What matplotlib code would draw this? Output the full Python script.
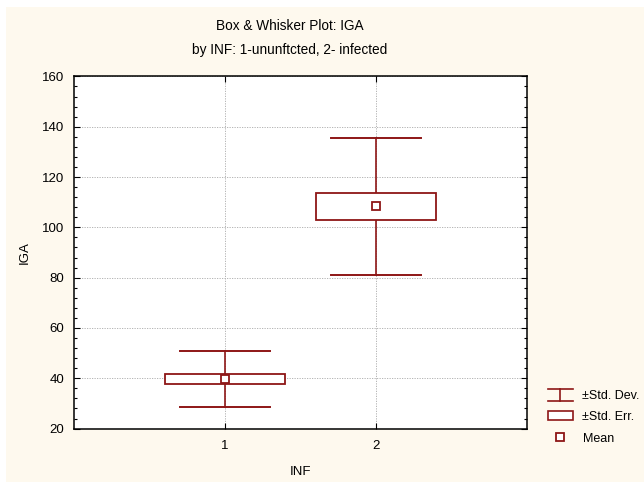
import matplotlib
matplotlib.use("Agg")
import matplotlib.pyplot as plt
from matplotlib.patches import Rectangle
from matplotlib.lines import Line2D
from matplotlib.ticker import MultipleLocator

plt.rcParams['font.family'] = ['Liberation Sans', 'DejaVu Sans']

groups = [1, 2]
means = [39.7, 108.3]
std_err = [1.9, 5.5]
std_dev = [10.95, 27.15]

title = "Box & Whisker Plot: IGA"
subtitle = "by INF: 1-ununftcted, 2- infected"
y_ticks = [20, 40, 60, 80, 100, 120, 140, 160]

red = '#8E1616'
cream = '#FEF9EE'

fig = plt.figure(figsize=(6.44, 4.82), dpi=100, facecolor='white')
fig.patches.append(Rectangle((6 / 644, 0), 1, 1 - 7 / 482, transform=fig.transFigure,
                             facecolor=cream, edgecolor='none', zorder=-10))

ax = fig.add_axes([74 / 644, 1 - 428.6 / 482, (527 - 74) / 644, (428.6 - 76.4) / 482])
ax.set_facecolor('white')

box_w = 0.8
cap_w = 0.6
for g, m, se, sd in zip(groups, means, std_err, std_dev):
    # standard deviation whiskers
    ax.plot([g, g], [m + se, m + sd], color=red, lw=1.2, zorder=3)
    ax.plot([g, g], [m - sd, m - se], color=red, lw=1.2, zorder=3)
    ax.plot([g - cap_w / 2, g + cap_w / 2], [m + sd, m + sd], color=red, lw=1.4, zorder=3)
    ax.plot([g - cap_w / 2, g + cap_w / 2], [m - sd, m - sd], color=red, lw=1.4, zorder=3)
    # standard error box
    ax.add_patch(Rectangle((g - box_w / 2, m - se), box_w, 2 * se,
                           facecolor='white', edgecolor=red, lw=1.3, zorder=4))
    # mean marker
    ax.plot([g], [m], marker='s', ms=6, mfc='white', mec=red, mew=1.3, zorder=5)

ax.set_xlim(0, 3)
ax.set_ylim(20, 160)
ax.set_xticks(groups)
ax.set_yticks(y_ticks)
ax.yaxis.set_minor_locator(MultipleLocator(4))
ax.tick_params(axis='both', which='both', direction='in', top=True, right=True,
               labelsize=9.5, colors='black')
ax.tick_params(which='major', length=4, width=0.8)
ax.tick_params(which='minor', length=2.5, width=0.8)
ax.tick_params(axis='x', pad=8)
ax.tick_params(axis='y', pad=7)
ax.grid(True, which='major', color='#AAAAAA', ls=(0, (1.5, 1.5)), lw=0.6, zorder=0)
for sp in ax.spines.values():
    sp.set_linewidth(1.1)
    sp.set_color('black')

ax.set_xlabel("INF", fontsize=9.5, labelpad=10)
ax.set_ylabel("IGA", fontsize=9.5, labelpad=8)

fig.text(290 / 644, 1 - 26 / 482, title, ha='center', va='center', fontsize=9.8)
fig.text(290 / 644, 1 - 50 / 482, subtitle, ha='center', va='center', fontsize=9.8)

handles = [
    Line2D([0], [0], color=red, lw=1.2),
    Rectangle((0, 0), 1, 1, facecolor='white', edgecolor=red, lw=1.2),
    Line2D([0], [0], color='none', marker='s', ms=5.5, mfc='white', mec=red, mew=1.3),
]
labels = ['\u00b1Std. Dev.', '\u00b1Std. Err.', 'Mean']


class SDHandler:
    def legend_artist(self, legend, orig_handle, fontsize, handlebox):
        x0, y0 = handlebox.xdescent, handlebox.ydescent
        w, h = handlebox.width, handlebox.height
        art = []
        cx = x0 + w / 2
        for (xs, ys) in [([x0, x0 + w], [y0 + h + 1, y0 + h + 1]),
                         ([x0, x0 + w], [y0 - 1.5, y0 - 1.5]),
                         ([cx, cx], [y0 - 1.5, y0 + h + 1])]:
            ln = Line2D(xs, ys, color=red, lw=1.2, transform=handlebox.get_transform())
            handlebox.add_artist(ln)
            art.append(ln)
        return art[0]


leg = fig.legend(handles, labels, loc='lower left', bbox_to_anchor=(540 / 644, 1 - 452 / 482),
                 frameon=False, fontsize=9, handlelength=2.0, handletextpad=0.8,
                 labelspacing=0.75, borderaxespad=0.2, handler_map={handles[0]: SDHandler()})

fig.savefig('out.png', dpi=100, facecolor=fig.get_facecolor())
